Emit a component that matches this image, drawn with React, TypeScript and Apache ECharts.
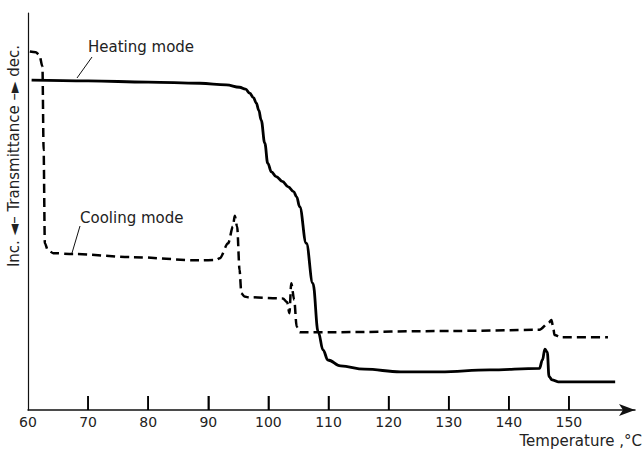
import React, { useEffect, useRef } from "react";
import * as echarts from "echarts";

// Heating mode (solid) — temperature (°C) and relative transmittance (arbitrary units)
const heatingT = [60.6, 70, 80, 88.6, 93, 95.2, 96.2, 96.9, 97.5, 98.0, 98.4, 98.8, 99.4, 99.9, 100.5, 101.3, 102.3, 103.3, 104.2, 104.7, 105.2, 106.3, 107.4, 108.3, 109.1, 109.9, 112, 116, 122, 128.5, 136.8, 145.1, 145.6, 146.0, 146.4, 146.7, 147.2, 148.2, 157.7];
const heatingV = [83.1, 82.9, 82.6, 82.3, 81.9, 81.3, 80.8, 79.8, 78.7, 77.3, 75.5, 73.0, 67.2, 62.1, 60.0, 58.8, 57.6, 56.2, 55.0, 53.7, 51.2, 42.0, 31.9, 19.6, 15.1, 12.6, 11.1, 10.3, 9.6, 9.6, 10.1, 10.5, 12.6, 15.3, 14.6, 8.4, 7.6, 7.1, 7.1];

// Cooling mode (dashed)
const coolingT = [60.3, 61.3, 61.9, 62.4, 62.6, 62.8, 63.3, 64.2, 67.5, 77.4, 88.6, 91.3, 91.9, 93.3, 94.1, 94.4, 94.8, 95.2, 95.5, 96.0, 96.6, 102.4, 103.1, 103.5, 103.8, 104.3, 104.7, 105.2, 110.6, 130.2, 145.1, 146.6, 147.1, 147.4, 147.6, 148.7, 156.5];
const coolingV = [90.3, 90.1, 89.4, 86.5, 65.5, 42.0, 40.3, 39.5, 39.3, 38.5, 37.7, 37.8, 38.2, 42.0, 46.2, 48.9, 46.2, 35.3, 29.4, 28.6, 28.4, 28.1, 27.2, 24.4, 31.9, 27.7, 21.0, 19.6, 19.6, 19.9, 20.2, 21.9, 22.7, 20.7, 18.9, 18.3, 18.3];

const tickValues = [70, 80, 90, 100, 110, 120, 130, 140, 150];
const labelValues = [60, 70, 80, 90, 100, 110, 120, 130, 140, 150];

const FONT = "DejaVu Sans";

export default function App() {
  const ref = useRef<HTMLDivElement>(null);
  useEffect(() => {
    if (!ref.current) return;
    const chart = echarts.init(ref.current, null, { renderer: "svg" });
    const heating = heatingT.map((t, i) => [t, heatingV[i]]);
    const cooling = coolingT.map((t, i) => [t, coolingV[i]]);
    chart.setOption({
      animation: false,
      backgroundColor: "#ffffff",
      grid: { left: 28, right: 9, top: 13, bottom: 39, containLabel: false },
      xAxis: {
        type: "value",
        min: 60,
        max: 161,
        interval: 10,
        axisLine: {
          show: true,
          symbol: ["none", "arrow"],
          symbolSize: [9, 16],
          lineStyle: { color: "#111", width: 1.5 },
        },
        axisTick: {
          show: true,
          inside: true,
          length: 14,
          customValues: tickValues,
          lineStyle: { color: "#000", width: 1.5 },
        },
        axisLabel: {
          customValues: labelValues,
          color: "#222",
          fontFamily: FONT,
          fontSize: 14,
          margin: 5,
        },
        splitLine: { show: false },
      },
      yAxis: {
        type: "value",
        min: 0,
        max: 100,
        axisLine: { show: true, lineStyle: { color: "#111", width: 1.2 } },
        axisTick: { show: false },
        axisLabel: { show: false },
        splitLine: { show: false },
      },
      series: [
        {
          name: "Heating mode",
          type: "line",
          data: heating,
          showSymbol: false,
          smooth: 0.4,
          smoothMonotone: "x",
          lineStyle: { color: "#000", width: 2.8, type: "solid" },
        },
        {
          name: "Cooling mode",
          type: "line",
          data: cooling,
          showSymbol: false,
          smooth: 0.3,
          smoothMonotone: "x",
          lineStyle: { color: "#000", width: 2.5, type: [9, 5] },
        },
      ],
    });

    // Inward x-axis ticks, positioned through the axis scale
    const ticks: any[] = [];
    tickValues.forEach((v) => {
      const p = chart.convertToPixel({ gridIndex: 0 }, [v, 0]) as unknown as number[];
      if (p && isFinite(p[0]) && isFinite(p[1])) {
        ticks.push({
          type: "line",
          silent: true,
          z: 100,
          shape: { x1: p[0], y1: p[1], x2: p[0], y2: p[1] - 14 },
          style: { stroke: "#000", lineWidth: 1.5 },
        });
      }
    });

    chart.setOption({
      graphic: [
        ...ticks,
        {
          type: "text",
          x: 88,
          y: 47,
          style: { text: "Heating mode", font: `15px '${FONT}'`, fill: "#222", align: "left", verticalAlign: "middle" },
        },
        {
          type: "line",
          shape: { x1: 92, y1: 57, x2: 77, y2: 78 },
          style: { stroke: "#111", lineWidth: 1 },
        },
        {
          type: "text",
          x: 80,
          y: 218,
          style: { text: "Cooling mode", font: `15px '${FONT}'`, fill: "#222", align: "left", verticalAlign: "middle" },
        },
        {
          type: "line",
          shape: { x1: 80, y1: 226, x2: 72, y2: 253 },
          style: { stroke: "#111", lineWidth: 1 },
        },
        {
          type: "text",
          x: 642,
          y: 441,
          style: { text: "Temperature ,°C", font: `15px '${FONT}'`, fill: "#222", align: "right", verticalAlign: "middle" },
        },
        {
          type: "text",
          x: 14,
          y: 156,
          rotation: Math.PI / 2,
          style: { text: "Inc. ◄– Transmittance –► dec.", font: `15px '${FONT}'`, fill: "#222", align: "center", verticalAlign: "middle" },
        },
      ],
    });
    return () => chart.dispose();
  }, []);
  return <div ref={ref} style={{ position: "fixed", left: 0, top: 0, width: 644, height: 449 }} />;
}
